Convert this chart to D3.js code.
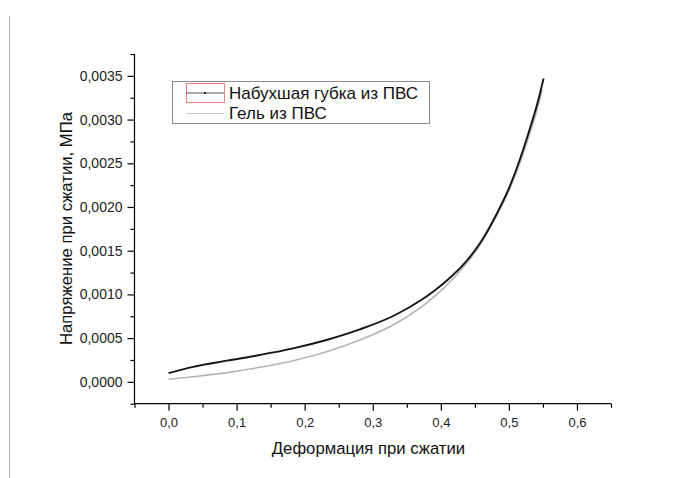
<!DOCTYPE html>
<html>
<head>
<meta charset="utf-8">
<script src="https://cdn.jsdelivr.net/npm/d3@7"></script>
<style>
  body { margin: 0; background: #fff; }
  svg { display: block; font-family: Arial, "Liberation Sans", sans-serif; }
</style>
</head>
<body>
<div id="chart"></div>
<script>
// Data
const spongeStrain = [0, 0.036, 0.086, 0.134, 0.183, 0.232, 0.281, 0.330, 0.370, 0.390, 0.409, 0.433, 0.458, 0.482, 0.502, 0.516, 0.531, 0.541, 0.551];
const spongeStress = [0.0001, 0.000172, 0.000242, 0.000307, 0.000383, 0.000479, 0.0006, 0.000753, 0.00093, 0.00104, 0.00116, 0.00134, 0.00159, 0.00192, 0.00225, 0.00254, 0.0029, 0.00316, 0.00347];
const gelStrain = [0, 0.036, 0.086, 0.134, 0.183, 0.232, 0.281, 0.330, 0.370, 0.404, 0.433, 0.458, 0.482, 0.502, 0.516, 0.531, 0.541, 0.549];
const gelStress = [0.000029, 0.000059, 0.000105, 0.000166, 0.000242, 0.000345, 0.000479, 0.00065, 0.00085, 0.00107, 0.00131, 0.00157, 0.0019, 0.00222, 0.0025, 0.00285, 0.0031, 0.00334];

const xTicks = [0, 0.1, 0.2, 0.3, 0.4, 0.5, 0.6];
const xMinor = [-0.05, 0.05, 0.15, 0.25, 0.35, 0.45, 0.55, 0.65];
const yTicks = [0, 0.0005, 0.001, 0.0015, 0.002, 0.0025, 0.003, 0.0035];
const yMinor = [-0.00025, 0.00025, 0.00075, 0.00125, 0.00175, 0.00225, 0.00275, 0.00325, 0.00375];

const seriesNames = ["Набухшая губка из ПВС", "Гель из ПВС"];

// Dimensions
const width = 699, height = 478;
const plot = { left: 134.5, right: 611, top: 54, bottom: 403.7 };

const xScale = d3.scaleLinear()
    .domain([-0.05, 0.65])
    .range([plot.left, plot.right]);

const yScale = d3.scaleLinear()
    .domain([-0.00025, 0.00375])
    .range([plot.bottom, plot.top]);

const svg = d3.select("#chart")
    .append("svg")
        .attr("width", width)
        .attr("height", height);

// page border line on the left
svg.append("line")
    .attr("x1", 9.5).attr("x2", 9.5)
    .attr("y1", 16).attr("y2", height)
    .attr("stroke", "#b5b5b5")
    .attr("stroke-width", 1);

const comma = f => d => f(d).replace(".", ",");

// X axis
const xAxis = svg.append("g")
    .attr("transform", `translate(0, ${plot.bottom})`)
    .call(d3.axisBottom(xScale)
        .tickValues(xTicks)
        .tickSize(7)
        .tickPadding(7)
        .tickFormat(comma(d3.format(".1f"))));

svg.append("g")
    .attr("transform", `translate(0, ${plot.bottom})`)
    .call(d3.axisBottom(xScale)
        .tickValues(xMinor)
        .tickSize(4)
        .tickFormat(""));

// Y axis
const yAxis = svg.append("g")
    .attr("transform", `translate(${plot.left}, 0)`)
    .call(d3.axisLeft(yScale)
        .tickValues(yTicks)
        .tickSize(7)
        .tickPadding(5)
        .tickFormat(comma(d3.format(".4f"))));

svg.append("g")
    .attr("transform", `translate(${plot.left}, 0)`)
    .call(d3.axisLeft(yScale)
        .tickValues(yMinor)
        .tickSize(4)
        .tickFormat(""));

svg.selectAll(".domain").remove();

svg.append("line")
    .attr("x1", plot.left).attr("x2", plot.right)
    .attr("y1", plot.bottom).attr("y2", plot.bottom)
    .attr("stroke", "#000").attr("stroke-width", 1.2);
svg.append("line")
    .attr("x1", plot.left).attr("x2", plot.left)
    .attr("y1", plot.top).attr("y2", plot.bottom)
    .attr("stroke", "#000").attr("stroke-width", 1.2);

svg.selectAll(".tick line").attr("stroke", "#000").attr("stroke-width", 1.2);
xAxis.selectAll("text").style("font-size", "13px").attr("fill", "#222");
yAxis.selectAll("text").style("font-size", "14px").attr("fill", "#222");

// Axis titles
svg.append("text")
    .attr("x", 368.5)
    .attr("y", 454)
    .attr("text-anchor", "middle")
    .style("font-size", "16.7px")
    .attr("fill", "#111")
    .text("Деформация при сжатии");

svg.append("text")
    .attr("transform", `translate(71.5, 228.5) rotate(-90)`)
    .attr("text-anchor", "middle")
    .style("font-size", "16.7px")
    .attr("fill", "#111")
    .text("Напряжение при сжатии, МПа");

// Lines
const line = d3.line()
    .x(d => xScale(d[0]))
    .y(d => yScale(d[1]))
    .curve(d3.curveMonotoneX);

svg.append("path")
    .datum(d3.zip(gelStrain, gelStress))
    .attr("d", line)
    .attr("fill", "none")
    .attr("stroke", "#b4b4b4")
    .attr("stroke-width", 1.6);

svg.append("path")
    .datum(d3.zip(spongeStrain, spongeStress))
    .attr("d", line)
    .attr("fill", "none")
    .attr("stroke", "#151515")
    .attr("stroke-width", 1.9);

// Legend
const legend = svg.append("g");
legend.append("rect")
    .attr("x", 172.5).attr("y", 81.5)
    .attr("width", 257).attr("height", 42)
    .attr("fill", "#fff")
    .attr("stroke", "#8a8a8a");

legend.append("rect")
    .attr("x", 186.5).attr("y", 83.5)
    .attr("width", 38).attr("height", 19)
    .attr("fill", "none")
    .attr("stroke", "#f47f7f");

legend.append("line")
    .attr("x1", 186).attr("x2", 224)
    .attr("y1", 93).attr("y2", 93)
    .attr("stroke", "#555").attr("stroke-width", 1.2);
legend.append("circle")
    .attr("cx", 205).attr("cy", 93).attr("r", 1)
    .attr("fill", "#000");

legend.append("line")
    .attr("x1", 186).attr("x2", 224)
    .attr("y1", 113.5).attr("y2", 113.5)
    .attr("stroke", "#c8c8c8").attr("stroke-width", 1.2);

legend.selectAll("text.label")
    .data(seriesNames)
    .join("text")
        .attr("class", "label")
        .attr("x", 229)
        .attr("y", (d, i) => 98.5 + i * 20.5)
        .style("font-size", "17px")
        .attr("fill", "#111")
        .text(d => d);
</script>
</body>
</html>
